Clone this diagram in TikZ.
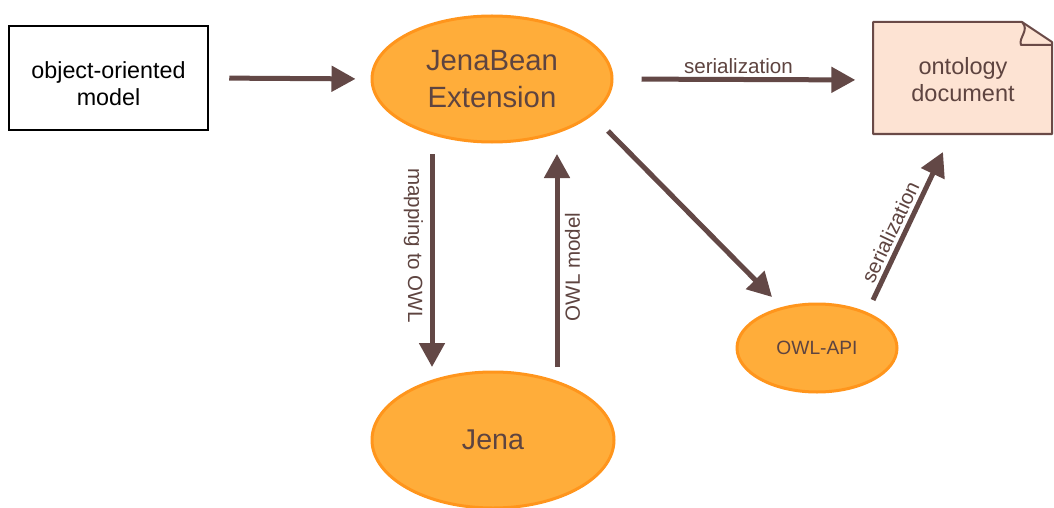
\documentclass[tikz,border=0pt]{standalone}
\usepackage{fontspec}
\setmainfont{Liberation Sans}
\usetikzlibrary{arrows.meta,shapes.geometric}
\definecolor{arrc}{HTML}{634846}
\definecolor{txtc}{HTML}{5E4440}
\definecolor{orfill}{HTML}{FFAD3A}
\definecolor{ordraw}{HTML}{FF951C}
\definecolor{docfill}{HTML}{FDE3D3}
\definecolor{docdraw}{HTML}{6A4A47}
\begin{document}
\begin{tikzpicture}[x=1pt,y=-1pt,
  arr/.style={draw=arrc,line width=5pt,-{Triangle[length=24pt,width=25pt]}},
  oval/.style={ellipse,draw=ordraw,fill=orfill,line width=3pt,inner sep=0pt,text=txtc,align=center},
  lbl/.style={text=txtc,font=\fontsize{20.6}{24}\selectfont,inner sep=0pt}
]
\useasboundingbox (0,0) rectangle (1054,508);
% object-oriented model box
\node[draw=black,line width=2.5pt,minimum width=199pt,minimum height=104pt,inner sep=0pt,
  align=center,font=\fontsize{23.3}{27}\selectfont] (oom) at (108.5,78) {\rule{0pt}{27.6pt}object-oriented\\model};
% ellipses
\node[oval,minimum width=240pt,minimum height=126pt,font=\fontsize{29.3}{37}\selectfont] (jb) at (492,79) {JenaBean\\Extension};
\node[oval,minimum width=242pt,minimum height=136pt,font=\fontsize{28.6}{34}\selectfont] (jena) at (493,440) {Jena};
\node[oval,minimum width=160pt,minimum height=88pt,font=\fontsize{19.2}{23}\selectfont] (owlapi) at (817,348) {OWL-API};
% ontology document
\fill[docfill] (873,22) -- (1022,22) -- (1052,42) -- (1052,134) -- (873,134) -- cycle;
\draw[docdraw,line width=2pt,line join=round] (1022,22) -- (873,22) -- (873,134) -- (1052,134) -- (1052,42) -- cycle;
\draw[docdraw,line width=2pt,line join=round] (1022,22) .. controls (1030,30) and (1018,38) .. (1021,45) -- (1052,45);
\node[minimum width=179pt,minimum height=112pt,inner sep=0pt,align=center,text=txtc,
  font=\fontsize{23.5}{27}\selectfont] (doc) at (963,80) {ontology\\document};
% connector end points
\coordinate (m1) at (432,154);
\coordinate (m2) at (432,367);
\coordinate (o1) at (557,367);
\coordinate (o2) at (557,154);
\coordinate (d1) at (608,131);
\coordinate (d2) at (772,297);
\coordinate (s1) at (873,300);
\coordinate (s2) at (943,152);
% connectors
\draw[arr,shorten <=20pt,shorten >=15pt] (oom.east) -- (jb.west);
\draw[arr,shorten <=28pt,shorten >=18pt] (jb.east) -- node[lbl,anchor=south,outer sep=0pt,yshift=6pt,xshift=-5pt] {serialization} (doc.west);
\draw[arr] (m1) -- node[lbl,pos=0.43,rotate=-90,anchor=north,outer sep=9pt] {mapping to OWL} (m2);
\draw[arr] (o1) -- node[lbl,pos=0.47,rotate=90,anchor=north,outer sep=8pt] {OWL model} (o2);
\draw[arr] (d1) -- (d2);
\draw[arr] (s1) -- node[lbl,pos=0.42,rotate=64.7,anchor=south,outer sep=6pt] {serialization} (s2);
\end{tikzpicture}
\end{document}
